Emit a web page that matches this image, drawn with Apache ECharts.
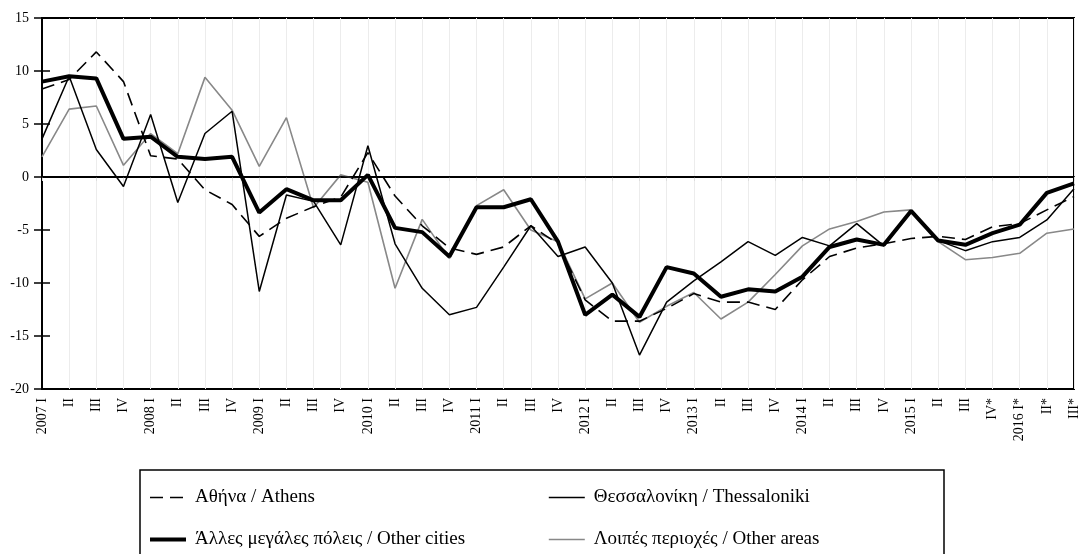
<!DOCTYPE html>
<html>
<head>
<meta charset="utf-8">
<script src="https://cdn.jsdelivr.net/npm/echarts@6/dist/echarts.min.js"></script>
<style>
html,body{margin:0;padding:0;background:#fff;}
#chart{width:1082px;height:554px;}
</style>
</head>
<body>
<div id="chart"></div>
<script>
const categories = ['2007 I','II','III','IV','2008 I','II','III','IV','2009 I','II','III','IV','2010 I','II','III','IV','2011 I','II','III','IV','2012 I','II','III','IV','2013 I','II','III','IV','2014 I','II','III','IV','2015 I','II','III','IV*','2016 I*','II*','III*'];
const yTicks = [-20,-15,-10,-5,0,5,10,15];

const seriesNames = ['Αθήνα / Athens','Θεσσαλονίκη / Thessaloniki','Άλλες μεγάλες πόλεις / Other cities','Λοιπές περιοχές / Other areas'];

const athens = [8.3, 9.2, 11.8, 9.0, 2.0, 1.7, -1.2, -2.6, -5.6, -3.9, -2.8, -1.9, 2.3, -1.8, -4.6, -6.7, -7.3, -6.6, -4.6, -6.3, -11.6, -13.6, -13.6, -12.4, -11.0, -11.8, -11.8, -12.5, -9.7, -7.5, -6.7, -6.3, -5.8, -5.6, -5.9, -4.7, -4.4, -3.1, -1.85];
const thessaloniki = [3.6, 9.5, 2.6, -0.9, 5.9, -2.4, 4.1, 6.2, -10.8, -1.7, -2.3, -6.4, 2.95, -6.3, -10.5, -13.0, -12.3, -8.5, -4.6, -7.5, -6.6, -10.0, -16.8, -11.8, -9.8, -8.0, -6.1, -7.4, -5.7, -6.5, -4.4, -6.5, -3.3, -6.0, -6.95, -6.1, -5.7, -4.05, -1.1];
const otherCities = [9.0, 9.5, 9.3, 3.6, 3.8, 1.9, 1.7, 1.9, -3.35, -1.15, -2.2, -2.2, 0.2, -4.8, -5.2, -7.5, -2.85, -2.85, -2.1, -6.1, -13.0, -11.1, -13.2, -8.5, -9.1, -11.3, -10.6, -10.8, -9.4, -6.6, -5.9, -6.4, -3.2, -6.0, -6.4, -5.3, -4.5, -1.5, -0.6];
const otherAreas = [1.9, 6.4, 6.7, 1.1, 4.1, 2.2, 9.4, 6.3, 1.0, 5.6, -2.9, 0.2, -0.5, -10.5, -4.0, -7.7, -2.7, -1.2, -5.0, -6.1, -11.5, -10.0, -13.7, -12.2, -10.9, -13.4, -11.8, -9.2, -6.5, -4.9, -4.2, -3.3, -3.1, -6.1, -7.8, -7.6, -7.2, -5.3, -4.9];

const FONT = '"Liberation Serif","DejaVu Serif",serif';
const chart = echarts.init(document.getElementById('chart'), null, {renderer:'canvas'});

const legendCommon = {
  orient: 'vertical',
  top: 488,
  itemWidth: 36,
  itemHeight: 14,
  itemGap: 23,
  padding: 0,
  itemStyle: {color: 'rgba(0,0,0,0)', borderColor: 'rgba(0,0,0,0)', borderWidth: 0},
  textStyle: {fontFamily: FONT, fontSize: 19, color: '#000', padding: [0, 0, 0, 4]},
  selectedMode: false
};

chart.setOption({
  animation: false,
  backgroundColor: '#fff',
  grid: {left: 42, right: 8, top: 18, bottom: 165, show: true, borderColor: '#000', borderWidth: 2, backgroundColor: 'transparent'},
  legend: [
    Object.assign({}, legendCommon, {left: 148, data: [
      {name: seriesNames[0], lineStyle: {width: 1.6}},
      {name: seriesNames[2], lineStyle: {width: 4}}
    ]}),
    Object.assign({}, legendCommon, {left: 548, data: [
      {name: seriesNames[1], lineStyle: {width: 1.5}},
      {name: seriesNames[3], lineStyle: {width: 1.6}}
    ]})
  ],
  graphic: [{
    type: 'rect',
    shape: {x: 140, y: 470, width: 804, height: 100},
    style: {fill: 'none', stroke: '#000', lineWidth: 1.5},
    silent: true
  }],
  xAxis: {
    type: 'category',
    data: categories,
    boundaryGap: false,
    axisLine: {lineStyle: {color: '#000', width: 2}},
    axisTick: {show: true, length: 4, lineStyle: {color: '#ddd'}},
    splitLine: {show: true, lineStyle: {color: '#ececec', width: 1}},
    axisLabel: {rotate: 90, interval: 0, margin: 9, fontFamily: FONT, fontSize: 14, color: '#000'}
  },
  yAxis: [{
    type: 'value',
    min: -20, max: 15, interval: 5,
    axisLine: {show: true, lineStyle: {color: '#000', width: 2}},
    axisTick: {show: true, length: 8, lineStyle: {color: '#000', width: 1.5}},
    splitLine: {show: false},
    axisLabel: {margin: 13, fontFamily: FONT, fontSize: 14, color: '#000',
      formatter: v => (yTicks.indexOf(v) >= 0 ? String(v) : '')}
  }, {
    type: 'value',
    position: 'left',
    min: -20, max: 15, interval: 5,
    axisLine: {show: false},
    axisTick: {show: true, inside: true, length: 8, lineStyle: {color: '#000', width: 1.5}},
    axisLabel: {show: false},
    splitLine: {show: false}
  }],
  series: [{
    name: seriesNames[0], type: 'line', data: athens, symbol: 'none', z: 3,
    lineStyle: {color: '#000', width: 1.6, type: [13, 7]}, itemStyle: {color: '#000'},
    markLine: {
      silent: true, symbol: 'none', label: {show: false},
      lineStyle: {color: '#000', width: 1.5, type: 'solid'},
      data: [{yAxis: 0}]
    }
  }, {
    name: seriesNames[1], type: 'line', data: thessaloniki, symbol: 'none', z: 3,
    lineStyle: {color: '#000', width: 1.5}, itemStyle: {color: '#000'}
  }, {
    name: seriesNames[2], type: 'line', data: otherCities, symbol: 'none', z: 4,
    lineStyle: {color: '#000', width: 4}, itemStyle: {color: '#000'}
  }, {
    name: seriesNames[3], type: 'line', data: otherAreas, symbol: 'none', z: 2,
    lineStyle: {color: '#888', width: 1.6}, itemStyle: {color: '#888'}
  }]
});
</script>
</body>
</html>
